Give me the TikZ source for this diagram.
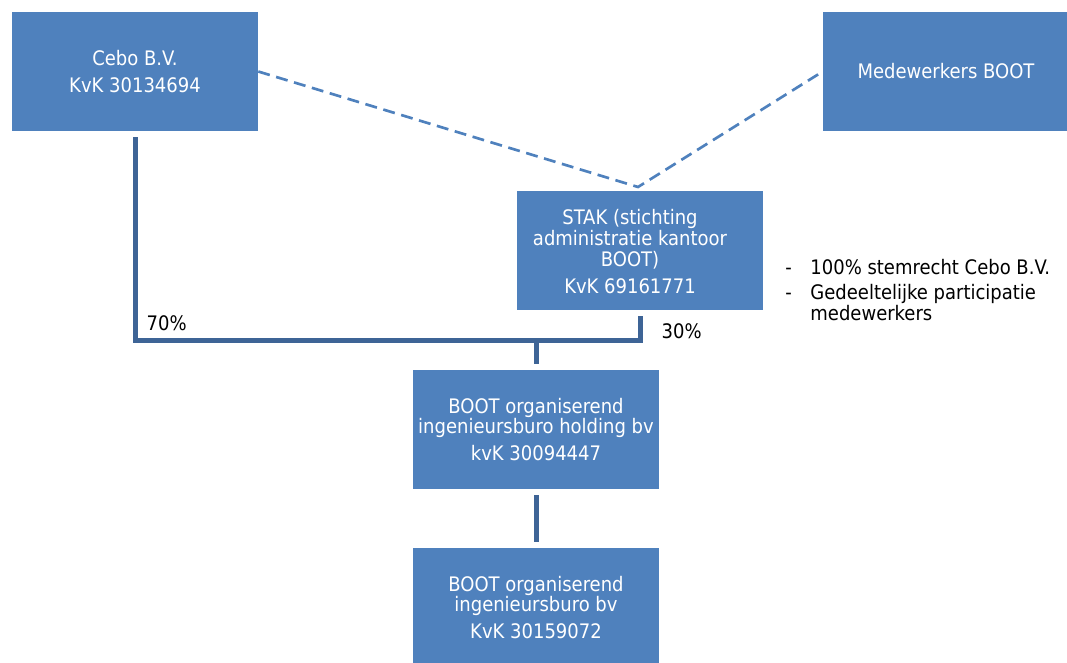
\documentclass[tikz,border=0pt]{standalone}
\usepackage{fontspec}
\setmainfont{DejaVu Sans Condensed}
\usetikzlibrary{positioning}
\definecolor{boxblue}{HTML}{4F81BD}
\definecolor{linkblue}{RGB}{62,100,150}

\begin{document}
\begin{tikzpicture}[x=0.75pt, y=-0.75pt, every node/.style={font=\fontsize{15}{15}\selectfont},
    entity/.style={fill=boxblue, text=white, minimum width=184.5pt, minimum height=89.25pt,
        inner sep=0pt, align=center},
    owner/.style={draw=linkblue, line width=3.75pt},
    member/.style={draw=boxblue, line width=2pt, dash pattern=on 9pt off 5pt}]
    \useasboundingbox (0,0) rectangle (1067,662);

    \node[entity] (cebo) at (135,71.5) {Cebo B.V.\\[5pt]KvK 30134694};
    \node[entity] (medew) at (946,71.5) {Medewerkers BOOT};
    \node[entity] (stak) at (640,250) {\renewcommand\arraystretch{0.95}%
        \raisebox{-3.5pt}[\height][\depth]{\begin{tabular}{@{}c@{\hspace{15pt}}}STAK (stichting\\administratie kantoor\\BOOT)\\[5pt]KvK 69161771\end{tabular}}};
    \node[entity] (holding) at (536,429.5) {BOOT organiserend\\ingenieursburo holding bv\\[5pt]kvK 30094447};
    \node[entity] (bv) at (536,607.5) {BOOT organiserend\\ingenieursburo bv\\[5pt]KvK 30159072};

    % dashed links to the STAK
    \coordinate (apex) at (638,187);
    \draw[member] (cebo.east) -- (apex) -- (medew.west);

    % shareholdings
    \coordinate (join) at (536,340);
    \draw[owner] ([yshift=-4.5pt]cebo.south) |- (join) -| ([yshift=-4.5pt]stak.south);
    \draw[owner] (join) -- ([yshift=4.5pt]holding.north);
    \draw[owner] ([yshift=-4.5pt]holding.south) -- ([yshift=4.5pt]bv.north);

    \node[anchor=west] (p70) at (142,323) {70\%};
    \node[anchor=west] (p30) at (657,331) {30\%};

    \node[anchor=north west, inner sep=0pt] (notes) at (785,259) {%
        \begin{tabular}{@{}l@{\hspace{14pt}}l@{}}
        - & 100\% stemrecht Cebo B.V.\\[3pt]
        - & Gedeeltelijke participatie\\
          & medewerkers
        \end{tabular}};
\end{tikzpicture}
\end{document}
